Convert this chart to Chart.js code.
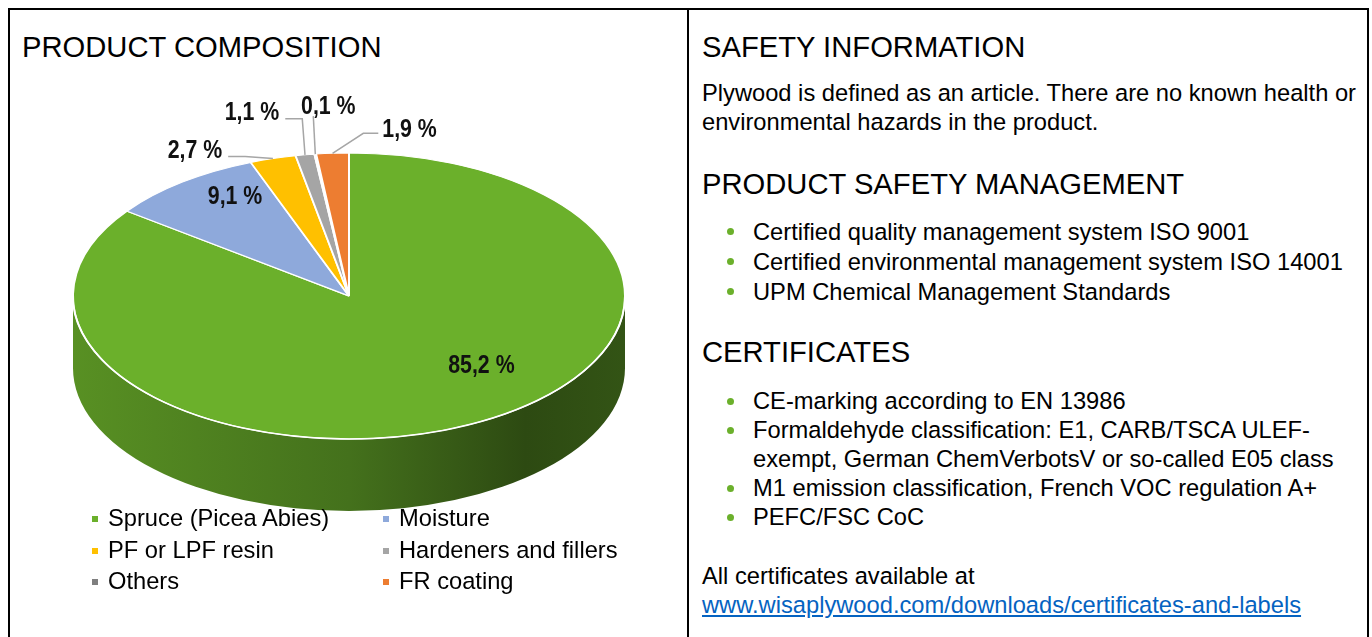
<!DOCTYPE html>
<html>
<head>
<meta charset="utf-8">
<title>Product composition</title>
<script src="https://cdn.jsdelivr.net/npm/chart.js@4.4.1/dist/chart.umd.min.js"></script>
<style>
  html, body { margin: 0; padding: 0; background: #fff; }
  body { width: 1372px; height: 637px; position: relative; overflow: hidden;
         font-family: "Liberation Sans", Arial, sans-serif; color: #000; }
  .line { position: absolute; background: #000; }
  .abs { position: absolute; white-space: nowrap; }
  .h { font-size: 29.2px; line-height: 34px; }
  .t { font-size: 23.7px; line-height: 29px; }
  ul { list-style: none; margin: 0; padding: 0; }
  li { position: relative; padding-left: 51px; }
  li::before { content: ""; position: absolute; left: 25px; top: 11px; width: 7px; height: 7px;
               border-radius: 50%; background: #6BB02B; }
  a { color: #0563C1; text-decoration: underline; }
  #pie { position: absolute; left: 0; top: 0; }
  .lg { position: absolute; font-size: 23.7px; line-height: 29px; white-space: nowrap; }
  .lg i { position: absolute; width: 6px; height: 6px; left: -16px; top: 12px; }
</style>
</head>
<body>

<!-- frame -->
<div class="line" style="left:8px; top:8px; width:1361px; height:2px;"></div>
<div class="line" style="left:8px; top:8px; width:2px; height:629px;"></div>
<div class="line" style="left:687px; top:8px; width:2px; height:629px;"></div>
<div class="line" style="left:1367px; top:8px; width:2px; height:629px;"></div>

<!-- left panel -->
<div class="abs h" style="left:22px; top:30px;">PRODUCT COMPOSITION</div>
<canvas id="pie" width="688" height="637"></canvas>
<div id="legend"></div>

<!-- right panel -->
<div class="abs h" style="left:702px; top:30px;">SAFETY INFORMATION</div>
<div class="abs t" style="left:702px; top:79px;">Plywood is defined as an article. There are no known health or<br>environmental hazards in the product.</div>

<div class="abs h" style="left:702px; top:167px;">PRODUCT SAFETY MANAGEMENT</div>
<ul class="abs t" style="left:702px; top:217px; line-height:30px;">
  <li>Certified quality management system ISO 9001</li>
  <li>Certified environmental management system ISO 14001</li>
  <li>UPM Chemical Management Standards</li>
</ul>

<div class="abs h" style="left:702px; top:335px;">CERTIFICATES</div>
<ul class="abs t" style="left:702px; top:387px;">
  <li>CE-marking according to EN 13986</li>
  <li>Formaldehyde classification: E1, CARB/TSCA ULEF-<br>exempt, German ChemVerbotsV or so-called E05 class</li>
  <li>M1 emission classification, French VOC regulation A+</li>
  <li>PEFC/FSC CoC</li>
</ul>

<div class="abs t" style="left:702px; top:562px;">All certificates available at<br><a>www.wisaplywood.com/downloads/certificates-and-labels</a></div>

<script>
// dữ liệu biểu đồ
const categories = ['Spruce (Picea Abies)', 'Moisture', 'PF or LPF resin', 'Hardeners and fillers', 'Others', 'FR coating'];
const shares = [85.2, 9.1, 2.7, 1.1, 0.1, 1.9];
const sliceColors = ['#6BB02B', '#8EA9DB', '#FFC000', '#A5A5A5', '#7F7F7F', '#ED7D31'];

// label placement, relative to the rim point at each slice's middle
const labelNudge = [[8, -58], [53, 15], [-78, -8], [-53, -42], [13, -47], [77, -23]];
const labelLeader = [false, false, true, true, true, true];

const TILT = 0.518;   // vertical squash of the top face
const DEPTH = 72;     // height of the side wall

function shade(hex, f) {
    const n = parseInt(hex.slice(1), 16);
    const r = Math.round(((n >> 16) & 255) * f);
    const g = Math.round(((n >> 8) & 255) * f);
    const b = Math.round((n & 255) * f);
    return `rgb(${r},${g},${b})`;
}

function fmt(v) {
    return v.toFixed(1).replace('.', ',') + ' %';
}

// legend in two columns
const legendEl = document.getElementById('legend');
categories.forEach((name, i) => {
    const col = i % 2, row = Math.floor(i / 2);
    const d = document.createElement('div');
    d.className = 'lg';
    d.style.left = (col ? 399 : 108) + 'px';
    d.style.top = (504 + row * 31.5) + 'px';
    d.innerHTML = `<i style="background:${sliceColors[i]}"></i>` + name;
    legendEl.appendChild(d);
});

// 3D-ish pie: side wall + squashed top face
const tiltPlugin = {
    id: 'tilt',
    beforeDatasetsDraw(chart) {
        const ctx = chart.ctx;
        const arcs = chart.getDatasetMeta(0).data;
        const { x, y, outerRadius: R } = arcs[0];
        const ry = R * TILT;

        arcs.forEach((arc, i) => {
            const a = Math.max(arc.startAngle, 0);
            const b = Math.min(arc.endAngle, Math.PI);
            if (b <= a) return;
            const grad = ctx.createLinearGradient(x - R, 0, x + R, 0);
            grad.addColorStop(0, shade(sliceColors[i], 0.82));
            grad.addColorStop(0.5, shade(sliceColors[i], 0.64));
            grad.addColorStop(0.82, shade(sliceColors[i], 0.42));
            grad.addColorStop(1, shade(sliceColors[i], 0.48));
            ctx.beginPath();
            ctx.ellipse(x, y, R, ry, 0, a, b);
            ctx.lineTo(x + R * Math.cos(b), y + ry * Math.sin(b) + DEPTH);
            ctx.ellipse(x, y + DEPTH, R, ry, 0, b, a, true);
            ctx.closePath();
            ctx.fillStyle = grad;
            ctx.fill();
        });

        ctx.save();
        ctx.translate(x, y);
        ctx.scale(1, TILT);
        ctx.translate(-x, -y);
    },
    afterDatasetsDraw(chart) {
        const ctx = chart.ctx;
        ctx.restore();

        const arcs = chart.getDatasetMeta(0).data;
        const { x, y, outerRadius: R } = arcs[0];

        // white highlight where the top face meets the wall
        ctx.save();
        ctx.strokeStyle = '#FFFFFF';
        ctx.lineWidth = 1.6;
        ctx.beginPath();
        ctx.ellipse(x, y, R, R * TILT, 0, 0.03, Math.PI - 0.03);
        ctx.stroke();
        ctx.restore();

        ctx.save();
        ctx.font = 'bold 26px "Liberation Sans", Arial, sans-serif';
        ctx.textAlign = 'center';
        ctx.textBaseline = 'middle';
        arcs.forEach((arc, i) => {
            const mid = (arc.startAngle + arc.endAngle) / 2;
            const ax = arc.x + arc.outerRadius * Math.cos(mid);
            const ay = arc.y + arc.outerRadius * TILT * Math.sin(mid);
            const lx = ax + labelNudge[i][0];
            const ly = ay + labelNudge[i][1];
            const text = fmt(shares[i]);
            const w = ctx.measureText(text).width * 0.82;

            if (labelLeader[i]) {
                ctx.strokeStyle = '#A6A6A6';
                ctx.lineWidth = 1.5;
                ctx.beginPath();
                if (Math.abs(lx - ax) < w / 2) {
                    ctx.moveTo(ax - 2, ly + 9);
                    ctx.lineTo(ax, ay);
                } else if (lx < ax) {
                    const sx = lx + w / 2 + 6;
                    ctx.moveTo(sx, ly + 6);
                    ctx.lineTo(Math.min(sx + 17, ax), ly + 6);
                    ctx.lineTo(ax, ay);
                } else {
                    const sx = lx - w / 2 - 4;
                    ctx.moveTo(sx, ly + 3);
                    ctx.lineTo(sx - 15, ly + 3);
                    ctx.lineTo(ax, ay);
                }
                ctx.stroke();
            }

            ctx.save();
            ctx.translate(lx, ly);
            ctx.scale(0.82, 1);
            ctx.fillStyle = '#111';
            ctx.fillText(text, 0, 0);
            ctx.restore();
        });
        ctx.restore();
    }
};

new Chart(document.getElementById('pie'), {
    type: 'pie',
    data: {
        labels: categories,
        datasets: [{
            data: shares,
            backgroundColor: sliceColors,
            borderColor: '#FFFFFF',
            borderWidth: 2
        }]
    },
    options: {
        responsive: false,
        animation: false,
        devicePixelRatio: 1,
        layout: { padding: { left: 72, right: 62, top: 19, bottom: 64 } },
        plugins: {
            legend: { display: false },
            tooltip: { enabled: false }
        }
    },
    plugins: [tiltPlugin]
});
</script>
</body>
</html>
